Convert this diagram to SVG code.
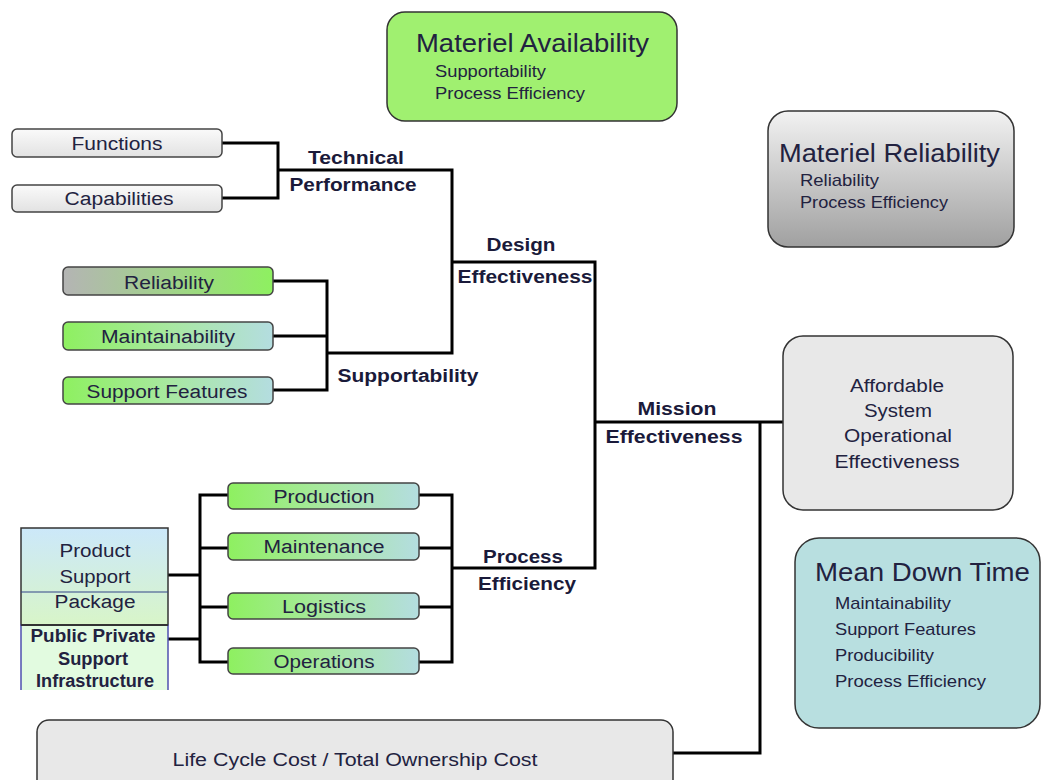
<svg xmlns="http://www.w3.org/2000/svg" width="1042" height="780" viewBox="0 0 1042 780">
<defs>
<linearGradient id="gFunc" x1="0" y1="0" x2="0" y2="1"><stop offset="0" stop-color="#fafafa"/><stop offset="1" stop-color="#e2e2e2"/></linearGradient>
<linearGradient id="gRel" x1="0" y1="0" x2="1" y2="0"><stop offset="0" stop-color="#b4b4b4"/><stop offset="1" stop-color="#8ef060"/></linearGradient>
<linearGradient id="gGB" x1="0" y1="0" x2="1" y2="0"><stop offset="0" stop-color="#8ef060"/><stop offset="0.5" stop-color="#a8e8a0"/><stop offset="1" stop-color="#b4dde0"/></linearGradient>
<linearGradient id="gMR" x1="0" y1="0" x2="0" y2="1"><stop offset="0" stop-color="#f2f2f2"/><stop offset="1" stop-color="#a0a0a0"/></linearGradient>
<linearGradient id="gPSP" x1="0" y1="0" x2="0" y2="1"><stop offset="0" stop-color="#cce8fa"/><stop offset="1" stop-color="#d8f5c8"/></linearGradient>
</defs>
<style>
.box{stroke:#444;stroke-width:1.5}
.big{stroke:#333;stroke-width:1.5}
text{font-family:"Liberation Sans",Arial,sans-serif}
.lbl{font-size:18px;fill:#222240;text-anchor:middle}
.conn{font-size:18px;font-weight:bold;fill:#1a1a3a;text-anchor:middle}
.title{font-size:26px;fill:#222240}
.sub{font-size:17px;fill:#222240}
.ln{fill:none;stroke:#000;stroke-width:3}
</style>
<rect width="1042" height="780" fill="#fff"/>

<g id="connectors">
<polyline class="ln" points="222,143 278,143 278,198 222,198"/>
<polyline class="ln" points="278,170 452,170 452,353 327,353"/>
<polyline class="ln" points="273,281 327,281 327,390 273,390"/>
<line class="ln" x1="273" y1="336" x2="327" y2="336"/>
<polyline class="ln" points="452,262 595,262 595,568 452,568"/>
<polyline class="ln" points="419,495 452,495 452,662 419,662"/>
<line class="ln" x1="419" y1="548" x2="452" y2="548"/>
<line class="ln" x1="419" y1="607" x2="452" y2="607"/>
<polyline class="ln" points="228,495 200,495 200,662 228,662"/>
<line class="ln" x1="200" y1="548" x2="228" y2="548"/>
<line class="ln" x1="200" y1="607" x2="228" y2="607"/>
<line class="ln" x1="168" y1="575" x2="200" y2="575"/>
<line class="ln" x1="168" y1="639" x2="200" y2="639"/>
<line class="ln" x1="595" y1="422" x2="784" y2="422"/>
<polyline class="ln" points="760,422 760,753 673,753"/>
<text class="conn" x="356" y="164" textLength="96" lengthAdjust="spacingAndGlyphs">Technical</text>
<text class="conn" x="353" y="191" textLength="127" lengthAdjust="spacingAndGlyphs">Performance</text>
<text class="conn" x="521" y="251" textLength="69" lengthAdjust="spacingAndGlyphs">Design</text>
<text class="conn" x="525" y="283" textLength="135" lengthAdjust="spacingAndGlyphs">Effectiveness</text>
<text class="conn" x="408" y="382" textLength="141" lengthAdjust="spacingAndGlyphs">Supportability</text>
<text class="conn" x="677" y="415" textLength="79" lengthAdjust="spacingAndGlyphs">Mission</text>
<text class="conn" x="674" y="443" textLength="137" lengthAdjust="spacingAndGlyphs">Effectiveness</text>
<text class="conn" x="523" y="563" textLength="80" lengthAdjust="spacingAndGlyphs">Process</text>
<text class="conn" x="527" y="590" textLength="98" lengthAdjust="spacingAndGlyphs">Efficiency</text>
</g>

<g id="functions"><rect class="box" x="12" y="129" width="210" height="28" rx="5" fill="url(#gFunc)"/><text class="lbl" x="117" y="150" textLength="91" lengthAdjust="spacingAndGlyphs">Functions</text></g>
<g id="capabilities"><rect class="box" x="12" y="185" width="210" height="27" rx="5" fill="url(#gFunc)"/><text class="lbl" x="119" y="205" textLength="109" lengthAdjust="spacingAndGlyphs">Capabilities</text></g>
<g id="reliability"><rect class="box" x="63" y="267" width="210" height="28" rx="5" fill="url(#gRel)"/><text class="lbl" x="169" y="289" textLength="90" lengthAdjust="spacingAndGlyphs">Reliability</text></g>
<g id="maintainability"><rect class="box" x="63" y="322" width="210" height="28" rx="5" fill="url(#gGB)"/><text class="lbl" x="168" y="343" textLength="134" lengthAdjust="spacingAndGlyphs">Maintainability</text></g>
<g id="support-features"><rect class="box" x="63" y="377" width="210" height="27" rx="5" fill="url(#gGB)"/><text class="lbl" x="167" y="398" textLength="161" lengthAdjust="spacingAndGlyphs">Support Features</text></g>
<g id="production"><rect class="box" x="228" y="483" width="191" height="26" rx="5" fill="url(#gGB)"/><text class="lbl" x="324" y="503" textLength="101" lengthAdjust="spacingAndGlyphs">Production</text></g>
<g id="maintenance"><rect class="box" x="228" y="533" width="191" height="27" rx="5" fill="url(#gGB)"/><text class="lbl" x="324" y="553" textLength="121" lengthAdjust="spacingAndGlyphs">Maintenance</text></g>
<g id="logistics"><rect class="box" x="228" y="593" width="191" height="26" rx="5" fill="url(#gGB)"/><text class="lbl" x="324" y="613" textLength="84" lengthAdjust="spacingAndGlyphs">Logistics</text></g>
<g id="operations"><rect class="box" x="228" y="648" width="191" height="26" rx="5" fill="url(#gGB)"/><text class="lbl" x="324" y="668" textLength="101" lengthAdjust="spacingAndGlyphs">Operations</text></g>

<g id="product-support-package">
<rect x="21" y="528" width="147" height="97" fill="url(#gPSP)" stroke="#333" stroke-width="1.5"/>
<line x1="21" y1="592" x2="168" y2="592" stroke="#334488" stroke-width="1.2"/>
<text class="lbl" x="95" y="557" textLength="71" lengthAdjust="spacingAndGlyphs">Product</text>
<text class="lbl" x="95" y="583" textLength="71" lengthAdjust="spacingAndGlyphs">Support</text>
<text class="lbl" x="95" y="608" textLength="81" lengthAdjust="spacingAndGlyphs">Package</text>
</g>
<g id="public-private-support-infrastructure">
<path d="M21,690 V625 H168 V690" fill="#e2fbe0" stroke="#5050b0" stroke-width="1.5"/>
<line x1="21" y1="625" x2="168" y2="625" stroke="#333" stroke-width="2"/>
<text class="lbl" x="93" y="642" font-size="17" font-weight="bold" textLength="125" lengthAdjust="spacingAndGlyphs">Public  Private</text>
<text class="lbl" x="93" y="665" font-size="17" font-weight="bold" textLength="70" lengthAdjust="spacingAndGlyphs">Support</text>
<text class="lbl" x="95" y="687" font-size="17" font-weight="bold" textLength="118" lengthAdjust="spacingAndGlyphs">Infrastructure</text>
</g>

<g id="materiel-availability">
<rect class="big" x="387" y="12" width="290" height="109" rx="18" fill="#a0f070"/>
<text class="title" x="416" y="52" textLength="233" lengthAdjust="spacingAndGlyphs">Materiel Availability</text>
<text class="sub" x="435" y="77" textLength="111" lengthAdjust="spacingAndGlyphs">Supportability</text>
<text class="sub" x="435" y="99" textLength="150" lengthAdjust="spacingAndGlyphs">Process Efficiency</text>
</g>
<g id="materiel-reliability">
<rect class="big" x="768" y="111" width="246" height="136" rx="20" fill="url(#gMR)"/>
<text class="title" x="779" y="162" textLength="221" lengthAdjust="spacingAndGlyphs">Materiel Reliability</text>
<text class="sub" x="800" y="186" textLength="79" lengthAdjust="spacingAndGlyphs">Reliability</text>
<text class="sub" x="800" y="208" textLength="148" lengthAdjust="spacingAndGlyphs">Process Efficiency</text>
</g>
<g id="affordable-system">
<rect class="big" x="783" y="336" width="230" height="174" rx="20" fill="#e8e8e8"/>
<text class="lbl" x="897" y="392" textLength="94" lengthAdjust="spacingAndGlyphs">Affordable</text>
<text class="lbl" x="898" y="417" textLength="68" lengthAdjust="spacingAndGlyphs">System</text>
<text class="lbl" x="898" y="442" textLength="108" lengthAdjust="spacingAndGlyphs">Operational</text>
<text class="lbl" x="897" y="468" textLength="125" lengthAdjust="spacingAndGlyphs">Effectiveness</text>
</g>
<g id="mean-down-time">
<rect class="big" x="795" y="538" width="245" height="190" rx="24" fill="#b8dfe0"/>
<text class="title" x="815" y="581" textLength="215" lengthAdjust="spacingAndGlyphs">Mean Down Time</text>
<text class="sub" x="835" y="609" textLength="116" lengthAdjust="spacingAndGlyphs">Maintainability</text>
<text class="sub" x="835" y="635" textLength="141" lengthAdjust="spacingAndGlyphs">Support Features</text>
<text class="sub" x="835" y="661" textLength="99" lengthAdjust="spacingAndGlyphs">Producibility</text>
<text class="sub" x="835" y="687" textLength="151" lengthAdjust="spacingAndGlyphs">Process Efficiency</text>
</g>
<g id="life-cycle-cost">
<rect class="big" x="37" y="720" width="636" height="80" rx="12" fill="#e8e8e8"/>
<text class="lbl" x="355" y="766" textLength="365" lengthAdjust="spacingAndGlyphs">Life Cycle Cost / Total Ownership Cost</text>
</g>
</svg>
